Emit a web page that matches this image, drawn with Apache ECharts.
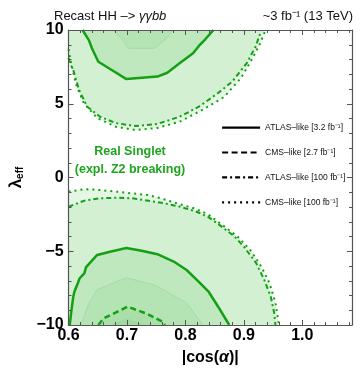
<!DOCTYPE html>
<html>
<head>
<meta charset="utf-8">
<script src="https://cdn.jsdelivr.net/npm/echarts@6/dist/echarts.min.js"></script>
<style>
  html, body { margin: 0; padding: 0; background: #fff; }
  #chart { width: 360px; height: 374px; }
</style>
</head>
<body>
<div id="chart"></div>
<script>
// 轮廓数据 [|cos(α)|, λ_eff]
// 上半区域
const upperCms100 = [[0.6, 8.7], [0.603, 8.0], [0.607, 7.3], [0.613, 6.3], [0.626, 5.05], [0.649, 4.03], [0.681, 3.44], [0.714, 3.22], [0.752, 3.36], [0.79, 3.78], [0.829, 4.58], [0.866, 5.45], [0.895, 6.74], [0.913, 7.96], [0.928, 9.1], [0.937, 10]]
const upperAtlas100 = [[0.6, 8.1], [0.603, 7.7], [0.608, 7.29], [0.618, 5.93], [0.632, 4.8], [0.654, 4.12], [0.681, 3.69], [0.714, 3.49], [0.752, 3.63], [0.79, 4.12], [0.823, 4.8], [0.856, 5.73], [0.88, 6.5], [0.905, 7.76], [0.92, 8.87], [0.927, 9.66], [0.929, 10]]
const upperAtlas32 = [[0.624, 10], [0.635, 9.3], [0.64, 8.76], [0.651, 7.85], [0.676, 7.24], [0.699, 6.67], [0.752, 6.84], [0.769, 7.1], [0.79, 7.74], [0.813, 8.42], [0.823, 8.92], [0.834, 9.37], [0.848, 10]]
const upperInner = [[0.676, 10], [0.69, 9.44], [0.703, 8.76], [0.747, 8.76], [0.769, 9.46], [0.777, 10]]
// 下半区域
const lowerCms100 = [[0.6, -0.96], [0.626, -0.8], [0.645, -0.82], [0.682, -0.96], [0.736, -1.19], [0.758, -1.41], [0.785, -1.75], [0.813, -2.07], [0.837, -2.45], [0.867, -3.33], [0.889, -4.0], [0.911, -4.92], [0.93, -6.05], [0.944, -7.17], [0.954, -8.5], [0.96, -10]]
const lowerAtlas100 = [[0.6, -1.98], [0.627, -1.57], [0.654, -1.41], [0.682, -1.37], [0.709, -1.41], [0.737, -1.57], [0.764, -1.75], [0.791, -1.98], [0.819, -2.32], [0.84, -2.7], [0.862, -3.33], [0.884, -4.0], [0.9, -4.69], [0.921, -5.8], [0.935, -6.95], [0.946, -8.08], [0.952, -9.2], [0.954, -10]]
const lowerAtlas32 = [[0.602, -10], [0.605, -9.0], [0.608, -8.1], [0.61, -7.74], [0.616, -7.15], [0.619, -6.83], [0.627, -6.5], [0.63, -6.07], [0.649, -5.25], [0.671, -5.03], [0.699, -4.78], [0.725, -4.96], [0.752, -5.2], [0.78, -5.7], [0.802, -6.27], [0.823, -7.07], [0.84, -7.76], [0.856, -8.76], [0.875, -10]]
const lowerInner = [[0.621, -10], [0.635, -8.5], [0.649, -7.6], [0.699, -6.8], [0.748, -7.3], [0.802, -8.5], [0.83, -10]]
const lowerCms27 = [[0.651, -10], [0.66, -9.55], [0.701, -8.76], [0.735, -9.25], [0.761, -9.78], [0.765, -10]]
const lowerCore = [[0.675, -10], [0.7, -9.6], [0.725, -10]]
// 区域闭合用的角点
const upperCorner = [[0.6, 10]]
const lowerCorner = [[0.6, -10]]

const legendNames = ['ATLAS–like [3.2 fb⁻¹]', 'CMS–like [2.7 fb⁻¹]', 'ATLAS–like [100 fb⁻¹]', 'CMS–like [100 fb⁻¹]']
const xTicks = [0.6, 1.085, 0.1]
const yTicks = [-10, 10, 5]

const font = 'Liberation Sans'
const lineGreen = '#14a014'
const frame = '#555'

// 填充区域
function fill(points, color, z) {
  return {
    type: 'custom',
    coordinateSystem: 'cartesian2d',
    data: points,
    clip: true,
    silent: true,
    z,
    renderItem(params, api) {
      if (params.dataIndex !== 0) {
        return
      }
      return {
        type: 'polygon',
        shape: { points: points.map(p => api.coord(p)) },
        style: { fill: color },
      }
    },
  }
}

// 轮廓线
function contour(points, name, type, width, color) {
  return {
    type: 'line',
    name,
    data: points,
    symbol: 'none',
    showSymbol: false,
    silent: true,
    z: 4,
    lineStyle: { color: color || lineGreen, width, type },
  }
}

const chart = echarts.init(document.getElementById('chart'))

const axisCommon = {
  type: 'value',
  axisLine: { show: true, onZero: false, lineStyle: { color: frame, width: 1.2 } },
  axisTick: { show: true, inside: true, length: 5, lineStyle: { color: frame } },
  minorTick: { show: true, splitNumber: 5, length: 3, lineStyle: { color: frame } },
  splitLine: { show: false },
  z: 10,
}

chart.setOption({
  animation: false,
  textStyle: { fontFamily: font },
  title: [
    {
      left: 49,
      top: 5,
      text: '{n|Recast HH –> }{i|γγbb}',
      textStyle: {
        fontWeight: 'normal',
        rich: {
          n: { fontFamily: font, fontSize: 13, fontWeight: 'normal', color: '#111' },
          i: { fontFamily: font, fontSize: 13, fontWeight: 'normal', color: '#111', fontStyle: 'italic' },
        },
      },
    },
    {
      right: 2,
      top: 5,
      text: '~3 fb⁻¹ (13 TeV)',
      textStyle: { fontFamily: font, fontSize: 13, fontWeight: 'normal', color: '#111' },
    },
  ],
  grid: { left: 57, right: 8, top: 30, bottom: 49 },
  legend: {
    data: legendNames,
    orient: 'vertical',
    left: 216,
    top: 117,
    itemWidth: 38,
    itemHeight: 14,
    itemGap: 13.7,
    selectedMode: false,
    lineStyle: { color: '#000', width: 2.2 },
    itemStyle: { opacity: 0 },
    textStyle: { fontFamily: font, fontSize: 8.5, color: '#111' },
  },
  xAxis: [
    {
      ...axisCommon,
      min: xTicks[0],
      max: xTicks[1],
      interval: xTicks[2],
      name: '{b||cos(}{a|α}{b|)|}',
      nameLocation: 'middle',
      nameGap: 25,
      nameTextStyle: {
        rich: {
          b: { fontFamily: font, fontSize: 16, fontWeight: 'bold', color: '#000' },
          a: { fontFamily: font, fontSize: 16, fontWeight: 'bold', fontStyle: 'italic', color: '#000' },
        },
      },
      axisLabel: {
        margin: 3,
        fontSize: 16,
        fontWeight: 'bold',
        color: '#000',
        showMaxLabel: false,
        formatter: v => v.toFixed(1),
      },
    },
    {
      ...axisCommon,
      position: 'top',
      min: xTicks[0],
      max: xTicks[1],
      interval: xTicks[2],
      axisLabel: { show: false },
    },
  ],
  yAxis: [
    {
      ...axisCommon,
      min: yTicks[0],
      max: yTicks[1],
      interval: yTicks[2],
      name: '{l|λ}{s|eff}',
      nameLocation: 'middle',
      nameGap: 39,
      nameRotate: 90,
      nameTextStyle: {
        rich: {
          l: { fontFamily: font, fontSize: 17, fontWeight: 'bold', color: '#000' },
          s: { fontFamily: font, fontSize: 10, fontWeight: 'bold', color: '#000', padding: [8, 0, 0, 0] },
        },
      },
      axisLabel: {
        margin: 5,
        fontSize: 16,
        fontWeight: 'bold',
        color: '#000',
        formatter: v => String(v).replace('-', '−'),
      },
    },
    {
      ...axisCommon,
      position: 'right',
      min: yTicks[0],
      max: yTicks[1],
      interval: yTicks[2],
      axisLabel: { show: false },
    },
  ],
  graphic: [
    {
      type: 'text',
      x: 130,
      y: 161,
      z: 20,
      style: {
        text: 'Real Singlet\n(expl. Z2 breaking)',
        align: 'center',
        verticalAlign: 'middle',
        lineHeight: 18,
        font: 'bold 12.5px "Liberation Sans"',
        fill: '#1fa51f',
      },
    },
  ],
  series: [
    // 上半区域填充
    fill(upperCms100.concat(upperCorner), '#e4f6e4', 1),
    fill(upperAtlas100.concat(upperCorner), '#d3f0d3', 1),
    fill(upperAtlas32, '#bfe8bf', 1),
    fill(upperInner, '#b4e3b4', 1),
    // 下半区域填充
    fill(lowerCms100.concat(lowerCorner), '#e4f6e4', 1),
    fill(lowerAtlas100.concat(lowerCorner), '#d3f0d3', 1),
    fill(lowerAtlas32, '#bfe8bf', 1),
    fill(lowerInner, '#b4e3b4', 1),
    fill(lowerCms27, '#aadfaa', 1),
    fill(lowerCore, '#a2dba2', 1),
    // 轮廓线
    contour(upperInner, '', 'solid', 1, '#a6daa6'),
    contour(lowerInner, '', 'solid', 1, '#a6daa6'),
    contour(lowerCore, '', 'solid', 1, '#9ad49a'),
    contour(upperAtlas32, legendNames[0], 'solid', 2.5),
    contour(lowerAtlas32, legendNames[0], 'solid', 2.5),
    contour(lowerCms27, legendNames[1], [6, 3.5], 2.5),
    contour(upperAtlas100, legendNames[2], [5, 3, 2, 3], 2),
    contour(lowerAtlas100, legendNames[2], [5, 3, 2, 3], 2),
    contour(upperCms100, legendNames[3], [2, 4], 2),
    contour(lowerCms100, legendNames[3], [2, 4], 2),
  ],
})
</script>
</body>
</html>
